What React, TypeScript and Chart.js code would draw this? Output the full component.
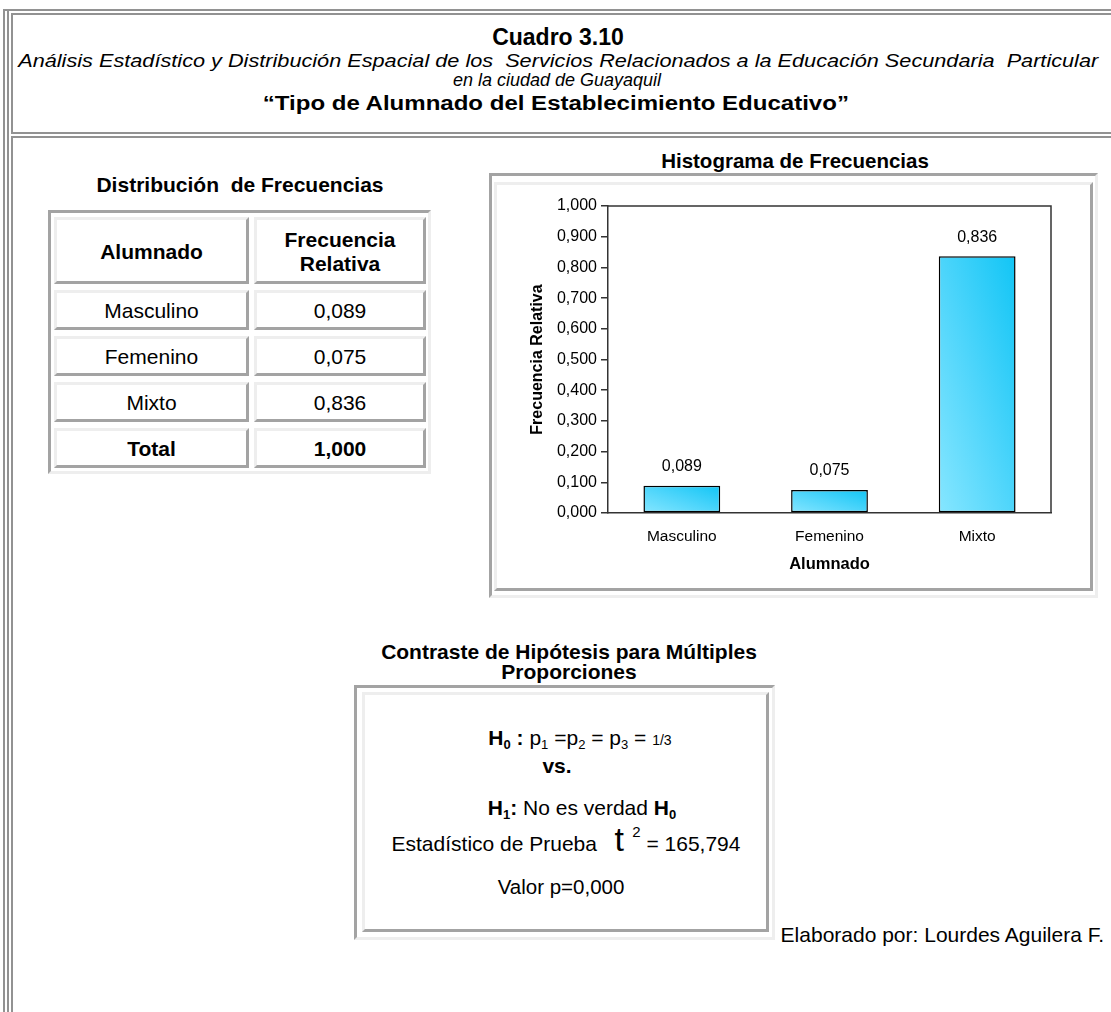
import React, { useEffect, useRef } from 'react';
import { Chart, registerables } from 'chart.js';

Chart.register(...registerables);

const FONT = '"Liberation Sans", Arial, Helvetica, sans-serif';
Chart.defaults.font.family = FONT;
Chart.defaults.color = '#000';

// ---------------- data ----------------
const categories: string[] = ['Masculino', 'Femenino', 'Mixto'];
const relativeFrequency: number[] = [0.089, 0.075, 0.836];
const yAxisMin = 0;
const yAxisMax = 1;
const yAxisStep = 0.1;
const chartTitle = 'Histograma de Frecuencias';
const xAxisTitle = 'Alumnado';
const yAxisTitle = 'Frecuencia Relativa';
const tableTitle = 'Distribución  de Frecuencias';
const tableHeaderCol1 = 'Alumnado';
const tableHeaderCol2 = ['Frecuencia', 'Relativa'];
const totalLabel = 'Total';
const testStatistic = '165,794';
const pValue = '0,000';

const fmt = (v: number) => v.toFixed(3).replace('.', ',');

const DARK = '#a3a3a3';
const LIGHT = '#eeeeee';
const FRAME = '#929292';
const AXIS = '#333333';

const measureCtx: CanvasRenderingContext2D | null =
  typeof document !== 'undefined' ? document.createElement('canvas').getContext('2d') : null;
function textWidth(text: string, font: string) {
  if (!measureCtx) return 1;
  measureCtx.font = font;
  return measureCtx.measureText(text).width || 1;
}

type TextProps = {
  cx?: number;
  x?: number;
  w?: number;
  cy: number;
  size: number;
  bold?: boolean;
  italic?: boolean;
  align?: 'center' | 'left' | 'right';
  lh?: number;
  pre?: boolean;
  children?: React.ReactNode;
};

function Txt({ cx, x, w = 800, cy, size, bold, italic, align = 'center', lh, pre, children }: TextProps) {
  const h = lh ?? Math.round(size * 1.2);
  const left = x !== undefined ? x : (cx as number) - w / 2;
  const style: React.CSSProperties = {
    position: 'absolute',
    left,
    top: cy - h / 2,
    width: w,
    height: h,
    lineHeight: h + 'px',
    fontSize: size,
    fontWeight: bold ? 'bold' : 'normal',
    fontStyle: italic ? 'italic' : 'normal',
    textAlign: align,
    whiteSpace: pre ? 'pre' : 'nowrap',
    color: '#000',
    fontFamily: FONT,
  };
  return <div style={style}>{children}</div>;
}

// A single line of text stretched horizontally to span a target width (as in the source page)
function StretchLine({ cx, cy, width, text, size, bold, italic }: { cx: number; cy: number; width: number; text: string; size: number; bold?: boolean; italic?: boolean }) {
  const font = `${italic ? 'italic ' : ''}${bold ? 'bold ' : ''}${size}px ${FONT}`;
  const natural = textWidth(text, font);
  const k = width / natural;
  const h = Math.round(size * 1.2);
  return (
    <div
      style={{
        position: 'absolute',
        left: cx - natural / 2,
        top: cy - h / 2,
        width: natural,
        height: h,
        lineHeight: h + 'px',
        fontSize: size,
        fontWeight: bold ? 'bold' : 'normal',
        fontStyle: italic ? 'italic' : 'normal',
        whiteSpace: 'pre',
        fontFamily: FONT,
        color: '#000',
        transform: `scaleX(${k})`,
        transformOrigin: 'center center',
      }}
    >
      {text}
    </div>
  );
}

function Rule({ x, y, w, h, color = FRAME }: { x: number; y: number; w: number; h: number; color?: string }) {
  return <div style={{ position: 'absolute', left: x, top: y, width: w, height: h, background: color }} />;
}

function Bevel({ x, y, w, h, cell }: { x: number; y: number; w: number; h: number; cell?: boolean }) {
  const tl = cell ? LIGHT : DARK;
  const br = cell ? DARK : LIGHT;
  return (
    <div
      style={{
        position: 'absolute',
        left: x,
        top: y,
        width: w,
        height: h,
        boxSizing: 'border-box',
        borderStyle: 'solid',
        borderWidth: 3,
        borderTopColor: tl,
        borderLeftColor: tl,
        borderBottomColor: br,
        borderRightColor: br,
      }}
    />
  );
}

function HistogramChart() {
  const ref = useRef<HTMLCanvasElement>(null);
  useEffect(() => {
    const canvas = ref.current;
    if (!canvas) return;
    const BAR_FRACTION = 0.52;

    // "diagonal up" gradient in the bar's own box: light at bottom-left, strong at top-right
    const barFill = (c: any) => {
      const chart = c.chart;
      if (c.type !== 'data' || !chart.chartArea || !chart.scales.x) return '#3fd3fb';
      const xs = chart.scales.x;
      const ys = chart.scales.y;
      const cx = xs.getPixelForValue(c.dataIndex);
      const bw = (xs.width / categories.length) * BAR_FRACTION;
      const top = ys.getPixelForValue(c.raw as number);
      const bottom = ys.getPixelForValue(0);
      const bh = Math.max(1, bottom - top);
      const lam = 2 / (1 / (bw * bw) + 1 / (bh * bh));
      const x0 = cx - bw / 2;
      const g = chart.ctx.createLinearGradient(x0, bottom, x0 + lam / bw, bottom - lam / bh);
      g.addColorStop(0, '#86e6ff');
      g.addColorStop(0.5, '#4dd5fb');
      g.addColorStop(1, '#12c5f5');
      return g;
    };

    const plotFrame = {
      id: 'plotFrame',
      afterDatasetsDraw(chart: any) {
        const { ctx, chartArea } = chart;
        const { left, top, right, bottom } = chartArea;
        ctx.save();
        ctx.strokeStyle = AXIS;
        ctx.lineWidth = 1.5;
        ctx.beginPath();
        ctx.moveTo(left, top);
        ctx.lineTo(right, top);
        ctx.lineTo(right, bottom);
        ctx.stroke();
        ctx.restore();
      },
    };

    const valueLabels = {
      id: 'valueLabels',
      afterDatasetsDraw(chart: any) {
        const { ctx } = chart;
        const meta = chart.getDatasetMeta(0);
        ctx.save();
        ctx.font = `16px ${FONT}`;
        ctx.fillStyle = '#000';
        ctx.textAlign = 'center';
        ctx.textBaseline = 'middle';
        meta.data.forEach((el: any, i: number) => {
          ctx.fillText(fmt(relativeFrequency[i]), el.x, el.y - 19);
        });
        ctx.restore();
      },
    };

    const chart = new Chart(canvas, {
      type: 'bar',
      data: {
        labels: categories,
        datasets: [
          {
            data: relativeFrequency,
            backgroundColor: barFill as any,
            borderColor: '#000',
            borderWidth: 1.5,
            borderSkipped: false,
            categoryPercentage: 1,
            barPercentage: BAR_FRACTION,
          },
        ],
      },
      options: {
        responsive: true,
        maintainAspectRatio: false,
        animation: false,
        layout: { padding: { top: 21, right: 39, left: 0, bottom: 0 } },
        plugins: {
          legend: { display: false },
          tooltip: { enabled: false },
          title: { display: false },
        },
        scales: {
          x: {
            grid: { display: false, drawTicks: false },
            border: { display: true, color: AXIS, width: 1.5 },
            ticks: { color: '#000', font: { size: 15.5 }, padding: 14 },
            title: {
              display: true,
              text: xAxisTitle,
              color: '#000',
              font: { size: 16.5, weight: 'bold' },
              padding: { top: 0, bottom: 14 },
            },
            afterFit: (s: any) => {
              s.height = 75;
            },
          },
          y: {
            min: yAxisMin,
            max: yAxisMax,
            ticks: {
              stepSize: yAxisStep,
              color: '#000',
              font: { size: 16 },
              padding: 4,
              callback: (v: any) => fmt(Number(v)),
            },
            grid: { drawOnChartArea: false, drawTicks: true, tickLength: 7, color: AXIS, lineWidth: 1.5 },
            border: { display: true, color: AXIS, width: 1.5 },
            title: {
              display: true,
              text: yAxisTitle,
              color: '#000',
              font: { size: 16, weight: 'bold' },
              padding: { top: 31, bottom: 0 },
            },
            afterFit: (s: any) => {
              s.width = 111;
            },
          },
        },
      },
      plugins: [plotFrame, valueLabels],
    });
    return () => chart.destroy();
  }, []);
  return (
    <div style={{ position: 'absolute', left: 497, top: 185, width: 593, height: 403 }}>
      <canvas ref={ref} />
    </div>
  );
}

function FrequencyTable() {
  const col1 = { x: 54, w: 195 };
  const col2 = { x: 254, w: 172 };
  const rows = [
    ...categories.map((c, i) => ({ label: c, value: fmt(relativeFrequency[i]), bold: false })),
    { label: totalLabel, value: fmt(relativeFrequency.reduce((a, b) => a + b, 0)), bold: true },
  ];
  return (
    <>
      <Txt cx={240} cy={184} size={21} bold pre>{tableTitle}</Txt>
      <Bevel x={48} y={210} w={383} h={264} />
      <Bevel x={col1.x} y={217} w={col1.w} h={67} cell />
      <Bevel x={col2.x} y={217} w={col2.w} h={67} cell />
      <Txt cx={col1.x + col1.w / 2} w={190} cy={251} size={21} bold>{tableHeaderCol1}</Txt>
      <Txt cx={col2.x + col2.w / 2} w={170} cy={239} size={21} bold>{tableHeaderCol2[0]}</Txt>
      <Txt cx={col2.x + col2.w / 2} w={170} cy={263} size={21} bold>{tableHeaderCol2[1]}</Txt>
      {rows.map((r, i) => {
        const top = 290 + 46 * i;
        return (
          <React.Fragment key={r.label}>
            <Bevel x={col1.x} y={top} w={col1.w} h={40} cell />
            <Bevel x={col2.x} y={top} w={col2.w} h={40} cell />
            <Txt cx={col1.x + col1.w / 2} w={190} cy={top + 20} size={21} bold={r.bold}>{r.label}</Txt>
            <Txt cx={col2.x + col2.w / 2} w={170} cy={top + 20} size={21} bold={r.bold}>{r.value}</Txt>
          </React.Fragment>
        );
      })}
    </>
  );
}

const subStyle: React.CSSProperties = { fontSize: 13, position: 'relative', top: 4 };

function HypothesisBox() {
  return (
    <>
      <Txt cx={569} cy={652} size={21} bold lh={20}>Contraste de Hipótesis para Múltiples</Txt>
      <Txt cx={569} cy={672} size={21} bold lh={20}>Proporciones</Txt>
      <Bevel x={354} y={685} w={421} h={255} />
      <Bevel x={362} y={692} w={407} h={240} cell />
      <Txt cx={580} cy={737} size={21}>
        <b>H<span style={subStyle}>0</span> :</b> p<span style={subStyle}>1</span> =p<span style={subStyle}>2</span> = p
        <span style={subStyle}>3</span> = <span style={{ fontSize: 14 }}>1/3</span>
      </Txt>
      <Txt cx={557} cy={765} size={21} bold>vs.</Txt>
      <Txt cx={582} cy={807} size={21}>
        <b>H<span style={subStyle}>1</span>:</b> No es verdad <b>H<span style={subStyle}>0</span></b>
      </Txt>
      <Txt cx={566} cy={839} size={21} lh={40}>
        Estadístico de Prueba&nbsp;&nbsp;&nbsp;<span style={{ fontSize: 34 }}>t</span>
        <span style={{ fontSize: 15, position: 'relative', top: -14 }}>&nbsp;&nbsp;2</span>
        <span style={{ fontSize: 21 }}> = {testStatistic}</span>
      </Txt>
      <Txt cx={561} cy={886} size={20.5}>Valor p={pValue}</Txt>
    </>
  );
}

export default function App() {
  return (
    <div
      style={{
        position: 'absolute',
        left: 0,
        top: 0,
        width: 1111,
        height: 1012,
        background: '#fff',
        overflow: 'hidden',
        fontFamily: FONT,
      }}
    >
      {/* outer frame */}
      <Rule x={3} y={9} w={2} h={1003} />
      <Rule x={7} y={9} w={2} h={1003} />
      <Rule x={3} y={9} w={1108} h={2} />
      <Rule x={11} y={13} w={2} h={121} />
      <Rule x={11} y={13} w={1100} h={2} />
      <Rule x={11} y={132} w={1100} h={2} />
      <Rule x={11} y={136} w={1100} h={2} />
      <Rule x={11} y={136} w={2} h={876} />

      {/* header */}
      <Txt cx={558} cy={37} size={23} bold>Cuadro 3.10</Txt>
      <StretchLine
        cx={558}
        cy={61}
        width={1080}
        size={18}
        italic
        text="Análisis Estadístico y Distribución Espacial de los  Servicios Relacionados a la Educación Secundaria  Particular"
      />
      <Txt cx={557} cy={80} size={18} italic lh={20}>en la ciudad de Guayaquil</Txt>
      <StretchLine cx={556} cy={103} width={587} size={20} bold text="“Tipo de Alumnado del Establecimiento Educativo”" />

      <FrequencyTable />

      {/* histogram */}
      <Txt cx={795} cy={160} size={20.5} bold>{chartTitle}</Txt>
      <Bevel x={489} y={173} w={609} h={425} />
      <Bevel x={494} y={182} w={599} h={409} cell />
      <HistogramChart />

      <HypothesisBox />

      <Txt x={604} w={500} cy={934} size={21} align="right">Elaborado por: Lourdes Aguilera F.</Txt>
    </div>
  );
}
